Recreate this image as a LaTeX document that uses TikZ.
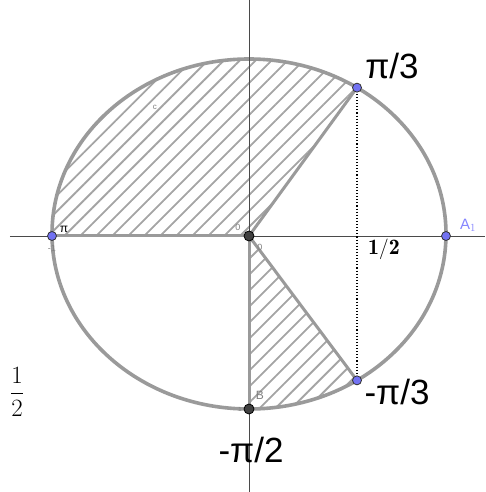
\documentclass[tikz,border=0pt]{standalone}
\usepackage{amsmath}
\usepackage{fontspec}
\newfontfamily\labelfont{Liberation Sans}
\usepackage{xcolor}
\usetikzlibrary{patterns.meta}

\definecolor{ringgray}{HTML}{9A9A9A}
\definecolor{hatchgray}{HTML}{A4A4A4}
\definecolor{axisgray}{HTML}{4A4A4A}
\definecolor{ptblue}{HTML}{7272F2}
\definecolor{labelblue}{HTML}{8585FF}

\begin{document}
\begin{tikzpicture}[x=1pt, y=1pt,
    ring/.style={draw=ringgray, line width=3.6pt},
    edgeline/.style={draw=ringgray, line width=3pt},
    hatch/.style={pattern={Lines[angle=45, distance=11.3pt, line width=1.8pt]}, pattern color=hatchgray},
    axisline/.style={draw=axisgray, line width=0.9pt},
    bluept/.style={circle, fill=ptblue, draw=black!80, line width=0.8pt, inner sep=0pt, minimum size=9pt},
    blackpt/.style={circle, fill=black!75, draw=black, line width=0.8pt, inner sep=0pt, minimum size=10pt},
    biglabel/.style={font=\labelfont\fontsize{35}{40}\selectfont},
    tinylabel/.style={font=\labelfont\fontsize{9}{10}\selectfont, text=gray}]
    \useasboundingbox (-249,-256) rectangle (236,236);

    % points of the ellipse
    \coordinate (O) at (0,0);
    \coordinate (L) at (-197,0);
    \coordinate (R) at (197,0);
    \coordinate (P1) at (108,148.36);
    \coordinate (P2) at (108,-144.36);
    \coordinate (B) at (0,-173);

    % hatched sectors
    \fill[hatch] (O) -- (P1) arc[start angle=56.755, end angle=180.65, x radius=197, y radius=175] -- cycle;
    \fill[hatch] (O) -- (B) arc[start angle=270, end angle=303.245, x radius=197, y radius=175] -- cycle;

    \draw[ring] (0,2) ellipse[x radius=197, y radius=175];

    % axes
    \draw[axisline] (-239,0) -- (236,0);
    \draw[axisline] (0,236) -- (0,-256);

    \draw[edgeline] (L) -- (O);
    \draw[edgeline] (O) -- (P1);
    \draw[edgeline] (O) -- (P2);
    \draw[edgeline] (O) -- (B);
    \draw[black, line width=1.1pt, dotted] (P1) -- (P2);

    \node[bluept] (Lpt) at (L) {};
    \node[bluept] (Rpt) at (R) {};
    \node[bluept] (P1pt) at (P1) {};
    \node[bluept] (P2pt) at (P2) {};
    \node[blackpt] (Opt) at (O) {};
    \node[blackpt] (Bpt) at (B) {};

    % labels
    \node[biglabel] (tp3) at (143,170) {π/3};
    \node[biglabel] (tm3) at (148,-156) {-π/3};
    \node[biglabel] (tm2) at (2,-214) {-π/2};
    \node[font=\fontsize{22}{24}\selectfont] (half) at (135,-13) {$\mathbf{1/2}$};
    \node[font=\labelfont\fontsize{15}{16}\selectfont, text=labelblue] (A1) at (219,11) {A$_1$};
    \node[font=\fontsize{31}{36}\selectfont] (frac) at (-232,-156) {$\displaystyle\frac{1}{2}$};
    \node[font=\labelfont\fontsize{12}{13}\selectfont] (pi) at (-185,7) {π};
    \node[tinylabel] (m1) at (-197,-12) {-1};
    \node[tinylabel] (z1) at (-11,9) {0};
    \node[tinylabel] (z2) at (11,-11) {0};
    \node[tinylabel, font=\labelfont\fontsize{12}{13}\selectfont] (Bl) at (11,-159) {B};
    \node[tinylabel, font=\labelfont\fontsize{8}{9}\selectfont] (cl) at (-94,129) {c};
    \node[tinylabel, font=\labelfont\fontsize{6}{7}\selectfont] (one) at (-9,-173) {1};
\end{tikzpicture}
\end{document}
